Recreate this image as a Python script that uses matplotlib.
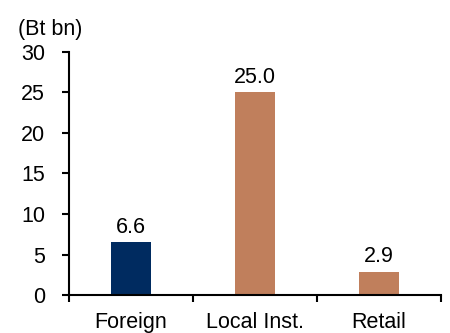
import matplotlib.pyplot as plt
import numpy as np

plt.rcParams['font.family'] = ['Liberation Sans', 'DejaVu Sans']

categories = ['Foreign', 'Local Inst.', 'Retail']
values = [6.6, 25.0, 2.9]
bar_colors = ['#002B60', '#C07F5C', '#C07F5C']

fig = plt.figure(figsize=(4.5, 3.33), dpi=100)
ax = fig.add_axes([0.153, 0.114, 0.827, 0.73])

x = np.arange(len(categories))
bars = ax.bar(x, values, width=0.32, color=bar_colors)
for b, v in zip(bars, values):
    ax.text(b.get_x() + b.get_width() / 2, v + 0.5, f'{v:.1f}',
            ha='center', va='bottom', fontsize=15.5)

ax.set_xlim(-0.5, len(categories) - 0.5)
ax.set_ylim(0, 30)
ax.set_yticks(range(0, 31, 5))
ax.set_xticks(x)
ax.set_xticklabels(categories)
ax.set_xticks(np.arange(-0.5, len(categories), 1), minor=True)
ax.tick_params(axis='x', which='major', length=0, pad=12, labelsize=15.5)
ax.tick_params(axis='x', which='minor', length=5, width=1.5, direction='out')
ax.tick_params(axis='y', length=5, width=1.5, direction='out', labelsize=15.5, pad=12)

for s in ['top', 'right']:
    ax.spines[s].set_visible(False)
for s in ['left', 'bottom']:
    ax.spines[s].set_linewidth(1.5)

fig.text(0.04, 0.912, '(Bt bn)', fontsize=15.5, ha='left', va='center')

fig.savefig('out.png', dpi=100)
